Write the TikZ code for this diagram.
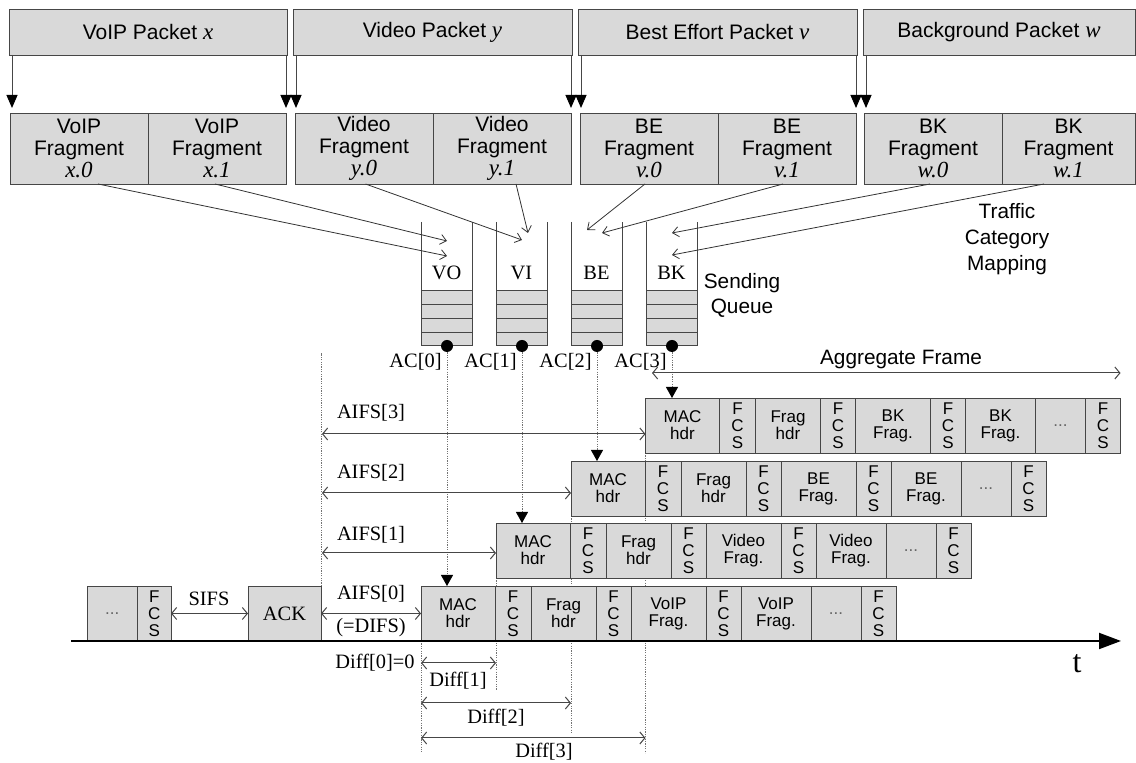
\documentclass[tikz,border=0pt]{standalone}
\usepackage{fontspec}
\setmainfont{Liberation Serif}
\setsansfont{Liberation Sans}
\usetikzlibrary{arrows.meta, positioning, calc}
\definecolor{cellgray}{RGB}{217,217,217}
\definecolor{linegray}{RGB}{70,70,70}
\pgfdeclarelayer{background}
\pgfsetlayers{background,main}
\newcommand{\pktvar}[1]{{\rmfamily\itshape\fontsize{11.5}{11}\selectfont #1}}
\tikzset{
  pkt/.style={draw=linegray, fill=cellgray, anchor=north west, inner sep=0pt, outer sep=0pt,
    minimum height=23pt, font=\sffamily\fontsize{10.5}{12}\selectfont},
  frag/.style={draw=linegray, fill=cellgray, anchor=north west, inner sep=0pt, outer sep=0pt,
    minimum width=69pt, minimum height=35.5pt, align=center, font=\sffamily\fontsize{10.5}{11}\selectfont},
  cell/.style={draw=linegray, fill=cellgray, anchor=north west, inner sep=0pt, outer sep=0pt,
    minimum height=27.5pt, align=center, font=\sffamily\fontsize{8.5}{8.5}\selectfont},
  serif/.style={font=\rmfamily\fontsize{10.2}{12}\selectfont, inner sep=0pt},
  sanslabel/.style={font=\sffamily\fontsize{10.4}{12.5}\selectfont, align=center, inner sep=0pt},
  splitarrow/.style={draw=linegray, line width=0.5pt, -{Triangle[length=6.5pt,width=5.5pt,color=black]}, shorten >=2.5pt},
  maparrow/.style={draw=black!80, line width=0.4pt, -{Straight Barb[length=3pt,width=5pt]}},
  dimarrow/.style={draw=linegray, line width=0.5pt,
    {Straight Barb[length=2.5pt,width=6pt]}-{Straight Barb[length=2.5pt,width=6pt]}},
  dotline/.style={draw=black!55, line width=0.4pt, dash pattern=on 0.6pt off 0.6pt},
  acarrow/.style={dotline, -{Triangle[length=5.5pt,width=6pt,color=black]}},
  qwall/.style={draw=linegray, line width=0.5pt},
  acdot/.style={circle, fill=black, inner sep=0pt, minimum size=6pt},
  timeaxis/.style={draw=black, line width=1pt, -{Triangle[length=11pt,width=8pt]}},
}
\begin{document}
\begin{tikzpicture}[x=0.5pt, y=-0.5pt]
\useasboundingbox (0,0) rectangle (1136,763);

% packets and their fragments
\node[pkt, minimum width=139pt] (pktVO) at (9,9) {VoIP Packet \pktvar{x}};
\node[pkt, minimum width=139.5pt] (pktVI) at (293,9) {Video Packet \pktvar{y}};
\node[pkt, minimum width=139.5pt] (pktBE) at (578,9) {Best Effort Packet \pktvar{v}};
\node[pkt, minimum width=136pt] (pktBK) at (863,9) {Background Packet \pktvar{w}};

\node[frag] (fragVO0) at (10,113) {VoIP\\Fragment\\\pktvar{x.0}};
\node[frag] (fragVO1) at (fragVO0.north east) {VoIP\\Fragment\\\pktvar{x.1}};
\node[frag] (fragVI0) at (295,113) {Video\\Fragment\\\pktvar{y.0}};
\node[frag] (fragVI1) at (fragVI0.north east) {Video\\Fragment\\\pktvar{y.1}};
\node[frag] (fragBE0) at (580,113) {BE\\Fragment\\\pktvar{v.0}};
\node[frag] (fragBE1) at (fragBE0.north east) {BE\\Fragment\\\pktvar{v.1}};
\node[frag] (fragBK0) at (864,113) {BK\\Fragment\\\pktvar{w.0}};
\node[frag, minimum width=66.5pt] (fragBK1) at (fragBK0.north east) {BK\\Fragment\\\pktvar{w.1}};

\foreach \k in {VO,VI,BE,BK}
  \draw[splitarrow] ([xshift=1.5pt]pkt\k.south west) -- ([xshift=1.5pt]pkt\k.south west |- frag\k0.north);
\foreach \k in {VO,VI,BE}
  \draw[splitarrow] ([xshift=-0.5pt]pkt\k.south east) -- ([xshift=-0.5pt]pkt\k.south east |- frag\k1.north);

% sending queues
\foreach \q/\qx/\ac in {VO/421/0, VI/496/1, BE/571/2, BK/646/3} {
  \fill[cellgray] (\qx,291) rectangle ++(51,55);
  \foreach \yy in {291,304.75,318.5,332.25}
    \draw[qwall] (\qx,\yy) -- ++(51,0);
  \draw[qwall] (\qx,222) -- (\qx,346) -- ++(51,0) -- ++(0,-124);
  \node[serif] (lbl\q) at ({\qx+25.5},273) {\q};
  \node[acdot] (dot\ac) at ({\qx+26},346) {};
  \node[serif, anchor=east] (ac\ac) at ({\qx+21},362) {AC[\ac]};
}
\node[sanslabel] (sendq) at (742,295) {Sending\\Queue};
\node[sanslabel, font=\sffamily\fontsize{10.4}{13}\selectfont] (tcmap) at (1007,239) {Traffic\\Category\\Mapping};

\coordinate (inVOa) at (447,241);
\coordinate (inVOb) at (447,256);
\coordinate (inVIa) at (522,240);
\coordinate (inVIb) at (528,233);
\coordinate (inBEa) at (587,230);
\coordinate (inBEb) at (602,233);
\coordinate (inBKa) at (672,233);
\coordinate (inBKb) at (672,255);
\draw[maparrow] ([xshift=9.5pt]fragVO0.south) -- (inVOb);
\draw[maparrow] ([xshift=-1pt]fragVO1.south) -- (inVOa);
\draw[maparrow] ([xshift=0.75pt]fragVI0.south) -- (inVIa);
\draw[maparrow] ([xshift=7pt]fragVI1.south) -- (inVIb);
\draw[maparrow] ([xshift=-2pt]fragBE0.south) -- (inBEa);
\draw[maparrow] ([xshift=-2pt]fragBE1.south) -- (inBEb);
\draw[maparrow] ([xshift=-1.5pt]fragBK0.south) -- (inBKa);
\draw[maparrow] ([xshift=-12.25pt]fragBK1.south) -- (inBKb);

% aggregate frames, one row per access category
\foreach \rw/\rx/\ry/\kind in {0/421/586/VoIP, 1/496/523/Video, 2/571/461/BE, 3/645.5/398/BK} {
  \node[cell, minimum width=37pt] (r\rw c1) at (\rx,\ry) {MAC\\hdr};
  \node[cell, minimum width=18pt] (r\rw c2) at (r\rw c1.north east) {F\\C\\S};
  \node[cell, minimum width=32.5pt] (r\rw c3) at (r\rw c2.north east) {Frag\\hdr};
  \node[cell, minimum width=17.5pt] (r\rw c4) at (r\rw c3.north east) {F\\C\\S};
  \node[cell, minimum width=37.5pt] (r\rw c5) at (r\rw c4.north east) {\kind\\Frag.};
  \node[cell, minimum width=17.5pt] (r\rw c6) at (r\rw c5.north east) {F\\C\\S};
  \node[cell, minimum width=35pt] (r\rw c7) at (r\rw c6.north east) {\kind\\Frag.};
  \node[cell, minimum width=25pt] (r\rw c8) at (r\rw c7.north east) {\textcolor{black!60}{...}};
  \node[cell, minimum width=17.5pt] (r\rw c9) at (r\rw c8.north east) {F\\C\\S};
}

% earlier exchange
\node[cell, minimum width=25.25pt] (prevdots) at (87,586) {\textcolor{black!60}{...}};
\node[cell, minimum width=16.75pt] (prevfcs) at (prevdots.north east) {F\\C\\S};
\node[cell, minimum width=36.5pt, font=\rmfamily\fontsize{10.2}{12}\selectfont] (ack) at (248,586) {ACK};

\begin{pgfonlayer}{background}
  \draw[dotline] (r0c1.south west) -- ++(0,111);
  \draw[dotline] (r1c1.south west) -- ++(0,112);
  \draw[dotline] (r2c1.south west) -- ++(0,217);
  \draw[dotline] (r3c1.south west) -- ++(0,300);
  \draw[dotline] (ack.north east) -- ++(0,-233);
\end{pgfonlayer}

\foreach \ac in {0,1,2,3}
  \draw[acarrow] (dot\ac) -- (dot\ac |- r\ac c1.north);

% AIFS and SIFS
\coordinate (aifs3) at (322,434);
\coordinate (aifs2) at (322,493);
\coordinate (aifs1) at (322,553);
\draw[dimarrow] (aifs3) -- (aifs3 -| r3c1.west);
\draw[dimarrow] (aifs2) -- (aifs2 -| r2c1.west);
\draw[dimarrow] (aifs1) -- (aifs1 -| r1c1.west);
\draw[dimarrow] (ack.east) -- (r0c1.west);
\draw[dimarrow] (prevfcs.east) -- (ack.west);
\node[serif] (aifslbl3) at (371,413) {AIFS[3]};
\node[serif] (aifslbl2) at (371,473) {AIFS[2]};
\node[serif] (aifslbl1) at (371,535) {AIFS[1]};
\node[serif] (aifslbl0) at (371,594) {AIFS[0]};
\node[serif] (difs) at (371,628) {(=DIFS)};
\node[serif] (sifs) at (209,599) {SIFS};

\coordinate (aggL) at (652,373);
\draw[dimarrow] (aggL) -- (aggL -| r3c9.east);
\node[sanslabel] (agglbl) at (901,360) {Aggregate Frame};

% time axis and differences
\coordinate (axisL) at (71,641);
\coordinate (axisR) at (1121,641);
\draw[timeaxis] (axisL) -- (axisR);
\node[serif, font=\rmfamily\fontsize{16}{16}\selectfont] (tlbl) at (1077,664) {t};

\coordinate (diff1) at (421,663);
\coordinate (diff2) at (421,703);
\coordinate (diff3) at (421,738);
\draw[dimarrow] (diff1) -- (diff1 -| r1c1.west);
\draw[dimarrow] (diff2) -- (diff2 -| r2c1.west);
\draw[dimarrow] (diff3) -- (diff3 -| r3c1.west);
\node[serif, anchor=east] (diff0lbl) at (415,663) {Diff[0]=0};
\node[serif] (diff1lbl) at (458,681) {Diff[1]};
\node[serif] (diff2lbl) at (496,718) {Diff[2]};
\node[serif] (diff3lbl) at (544,752) {Diff[3]};
\end{tikzpicture}
\end{document}
